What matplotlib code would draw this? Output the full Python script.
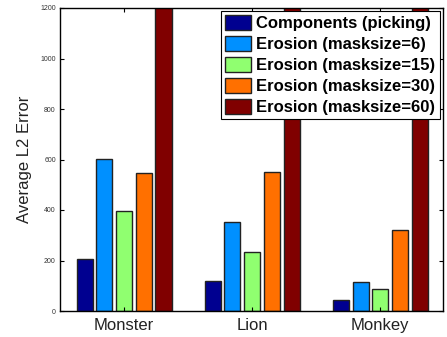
import numpy as np
import matplotlib
matplotlib.use('Agg')
import matplotlib.pyplot as plt

plt.rcParams['font.family'] = ['Liberation Sans', 'DejaVu Sans']

# Data
models = ['Monster', 'Lion', 'Monkey']
series = ['Components (picking)', 'Erosion (masksize=6)', 'Erosion (masksize=15)',
          'Erosion (masksize=30)', 'Erosion (masksize=60)']
components = [205, 119, 42]
erosion6 = [601, 351, 116]
erosion15 = [396, 235, 87]
erosion30 = [545, 552, 320]
erosion60 = [1300, 1300, 1300]  # clipped at top of axis
yticks = [0, 200, 400, 600, 800, 1000, 1200]

colors = ['#000090', '#0090ff', '#90ff70', '#ff7000', '#800000']

fig = plt.figure(figsize=(4.47, 3.37), dpi=100)
ax = fig.add_axes([60 / 447, 26 / 337, 383 / 447, 303 / 337])

x = np.arange(1, len(models) + 1)
step = 0.154
width = 0.125
all_vals = [components, erosion6, erosion15, erosion30, erosion60]
for i, (vals, lab, c) in enumerate(zip(all_vals, series, colors)):
    ax.bar(x + (i - 2) * step, vals, width, color=c, edgecolor='#222222',
           linewidth=1.0, label=lab)

ax.set_xlim(0.5, 3.49)
ax.set_ylim(0, 1200)
ax.set_xticks(x)
ax.set_xticklabels(models, fontsize=12, color='#222222')
ax.set_yticks(yticks)
ax.set_yticklabels([str(v) for v in yticks], fontsize=5, color='#333333')
ax.tick_params(direction='in', top=True, right=True, length=3, width=0.8)
ax.tick_params(axis='x', pad=5)
ax.tick_params(axis='y', pad=3)
ax.set_ylabel('Average L2 Error', fontsize=12, labelpad=6, color='#222222')
for s in ax.spines.values():
    s.set_linewidth(1.0)

leg = ax.legend(loc='upper right', bbox_to_anchor=(1.0, 1.0),
                prop={'weight': 'bold', 'size': 12}, frameon=True, fancybox=False,
                edgecolor='black', framealpha=1, borderpad=0.25, labelspacing=0.3,
                handlelength=1.6, handleheight=0.95, handletextpad=0.3,
                borderaxespad=0.2)
leg.get_frame().set_linewidth(0.8)

fig.savefig('out.png', dpi=100)
